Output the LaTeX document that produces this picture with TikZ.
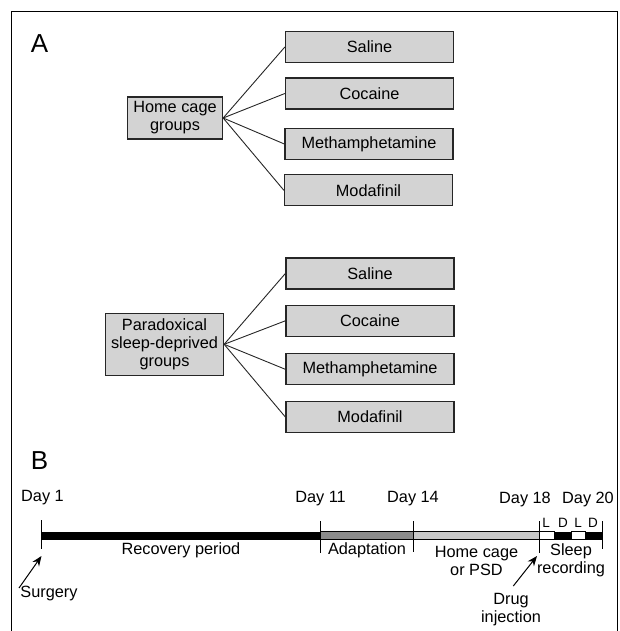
\documentclass[tikz,border=0pt]{standalone}
\usepackage{fontspec}
\setmainfont{Liberation Sans}
\usetikzlibrary{arrows.meta}
\definecolor{boxgray}{RGB}{211,211,211}
\definecolor{adaptgray}{RGB}{140,140,140}
\definecolor{homegray}{RGB}{200,200,200}
\begin{document}
\begin{tikzpicture}[x=1pt,y=-1pt,
  every node/.style={font=\fontsize{16.3}{18}\selectfont, inner sep=0pt},
  grp/.style={draw=black!85, line width=1.3pt, fill=boxgray, minimum width=168pt, minimum height=31pt},
  hub/.style={draw=black!85, line width=1.3pt, fill=boxgray, align=center},
  link/.style={line width=0.9pt, draw=black!85},
  daytick/.style={line width=1pt},
  lbl/.style={align=center},
  big/.style={font=\fontsize{26}{26}\selectfont},
  ld/.style={font=\fontsize{13.5}{14}\selectfont},
  arr/.style={line width=1pt, -{Stealth[length=10pt,width=8pt]}}
]
\useasboundingbox (0,0) rectangle (619,631);
\draw[line width=1.3pt] (11.5,631) -- (11.5,11.5) -- (617.5,11.5) -- (617.5,631);

\node[big] (A) at (39.5,44) {A};
\node[big] (B) at (39.5,460.6) {B};

% top group
\node[hub, minimum width=95pt, minimum height=42pt] (home) at (175,118) {Home cage\\groups};
\node[grp] (s1) at (369.5,47) {Saline};
\node[grp] (c1) at (369.5,93.5) {Cocaine};
\node[grp] (m1) at (369,144) {Methamphetamine};
\node[grp] (d1) at (368.5,190.3) {Modafinil};
\foreach \t in {s1,c1,m1,d1} \draw[link] (home.east) -- (\t.west);

% bottom group
\node[hub, minimum width=118pt, minimum height=62pt] (psd) at (164.5,344.3) {Paradoxical\\sleep-deprived\\groups};
\node[grp] (s2) at (370,273.5) {Saline};
\node[grp] (c2) at (370,320.8) {Cocaine};
\node[grp] (m2) at (370,369.3) {Methamphetamine};
\node[grp] (d2) at (370,417) {Modafinil};
\foreach \t in {s2,c2,m2,d2} \draw[link] (psd.east) -- (\t.west);

% timeline bar
\fill[black] (41,531.8) rectangle (320,539.8);
\draw[fill=adaptgray, line width=0.8pt] (320,531.8) rectangle (413,539.8);
\draw[fill=homegray, line width=0.8pt] (413,531.8) rectangle (539,539.8);
\draw[fill=white, line width=0.8pt] (539,531.8) rectangle (554,539.8);
\fill[black] (554,531.8) rectangle (571.7,539.8);
\draw[fill=white, line width=0.8pt] (571.7,531.8) rectangle (585.5,539.8);
\fill[black] (585.5,531.8) rectangle (602,539.8);

% ticks
\draw[daytick] (41,520) -- (41,549);
\draw[daytick] (320,521) -- (320,553);
\draw[daytick] (413,521) -- (413,552);
\draw[daytick] (539,521) -- (539,553);
\draw[daytick] (602,521) -- (602,549);

% day labels
\node (d1l) at (42.5,498) {Day 1};
\node (d11l) at (320.5,499) {Day 11};
\node (d14l) at (413,499) {Day 14};
\node (d18l) at (525,499) {Day 18};
\node (d20l) at (588,499) {Day 20};

% L D L D
\node[ld] (l1) at (546,523.3) {L};
\node[ld] (dd1) at (563,523.3) {D};
\node[ld] (l2) at (578,523.3) {L};
\node[ld] (dd2) at (593,523.3) {D};

% phase labels
\node (rec) at (181,550) {Recovery period};
\node (ada) at (367,550) {Adaptation};
\node[lbl] (hc) at (476.5,561.3) {Home cage\\or PSD};
\node[lbl] (sr) at (571,560.4) {Sleep\\recording};

% events
\node (surg) at (49,593.3) {Surgery};
\node[lbl] (drug) at (511,609.4) {Drug\\injection};
\coordinate (surgTail) at (19,588);
\coordinate (surgHead) at (41.5,556);
\coordinate (drugTail) at (513.3,586);
\coordinate (drugHead) at (537,556);
\draw[arr] (surgTail) -- (surgHead);
\draw[arr] (drugTail) -- (drugHead);
\end{tikzpicture}
\end{document}
